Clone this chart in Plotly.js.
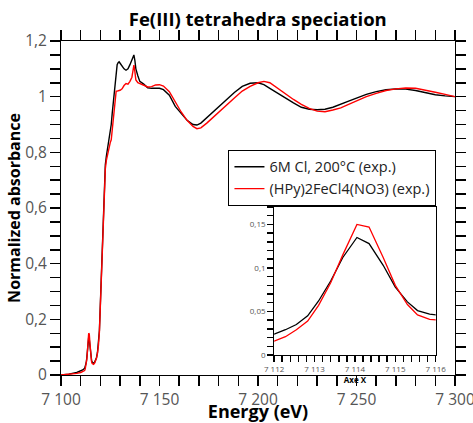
<!DOCTYPE html>
<html><head><meta charset="utf-8">
<script src="https://cdn.plot.ly/plotly-3.0.1.min.js"></script>
<style>html,body{margin:0;padding:0;background:#fff}#chart{width:473px;height:423px}</style>
</head><body><div id="chart"></div>
<script>
const energy = [7100,7104,7108,7110,7111,7112,7112.28,7112.55,7112.83,7113.1,7113.4,7113.7,7114.05,7114.35,7114.7,7115.0,7115.3,7115.55,7115.85,7116.15,7116.5,7117,7117.5,7118,7118.5,7119,7119.5,7120,7120.5,7121,7121.5,7122,7122.5,7123,7123.5,7124,7124.5,7125,7125.5,7126,7126.5,7127,7127.5,7128,7128.5,7129,7129.5,7130,7131,7132,7133,7134,7135,7136,7136.5,7137,7137.5,7138,7139,7140,7142,7144,7146,7148,7150,7152,7155,7158,7161,7164,7167,7169,7171,7174,7177,7180,7184,7188,7192,7196,7200,7203,7206,7210,7214,7218,7222,7226,7230,7234,7238,7242,7246,7250,7255,7260,7265,7270,7275,7280,7285,7290,7295,7300];
const blackCl200 = [0.0,0.003,0.009,0.014,0.018,0.024,0.029,0.035,0.045,0.062,0.085,0.112,0.135,0.128,0.103,0.078,0.061,0.051,0.047,0.045,0.042,0.045,0.052,0.062,0.08,0.11,0.16,0.26,0.37,0.48,0.6,0.70,0.755,0.785,0.81,0.83,0.85,0.87,0.90,0.94,0.98,1.02,1.05,1.09,1.115,1.122,1.125,1.12,1.11,1.10,1.095,1.10,1.115,1.135,1.148,1.15,1.13,1.10,1.075,1.055,1.045,1.032,1.03,1.03,1.03,1.025,1.005,0.965,0.94,0.915,0.90,0.898,0.905,0.925,0.945,0.962,0.99,1.015,1.037,1.048,1.05,1.043,1.03,1.012,0.995,0.978,0.962,0.955,0.953,0.955,0.962,0.972,0.984,0.995,1.008,1.018,1.025,1.028,1.027,1.022,1.014,1.007,1.003,1.0];
const redHPy = [0.0,0.002,0.006,0.009,0.012,0.016,0.021,0.029,0.039,0.057,0.083,0.115,0.150,0.147,0.112,0.080,0.058,0.046,0.041,0.039,0.038,0.042,0.05,0.06,0.078,0.105,0.155,0.25,0.36,0.47,0.59,0.69,0.74,0.77,0.79,0.81,0.825,0.835,0.845,0.88,0.93,0.97,1.005,1.02,1.02,1.02,1.022,1.023,1.028,1.04,1.047,1.045,1.055,1.07,1.095,1.113,1.09,1.06,1.05,1.047,1.043,1.035,1.036,1.042,1.043,1.038,1.018,0.98,0.945,0.915,0.893,0.885,0.888,0.905,0.925,0.944,0.972,0.995,1.02,1.037,1.05,1.055,1.05,1.03,1.008,0.99,0.972,0.958,0.948,0.946,0.952,0.96,0.972,0.985,1.0,1.012,1.022,1.028,1.031,1.03,1.024,1.016,1.008,1.0];
const seriesNames = ['6M Cl, 200°C (exp.)','(HPy)2FeCl4(NO3) (exp.)'];
// tick positions (majors carry a label, minors an empty label)
const mainXTickVals = [7100,7110,7120,7130,7140,7150,7160,7170,7180,7190,7200,7210,7220,7230,7240,7250,7260,7270,7280,7290,7300];
const mainXTickText = ['7 100','','','','','7 150','','','','','7 200','','','','','7 250','','','','','7 300'];
const mainYTickVals = [0,0.05,0.1,0.15,0.2,0.25,0.3,0.35,0.4,0.45,0.5,0.55,0.6,0.65,0.7,0.75,0.8,0.85,0.9,0.95,1,1.05,1.1,1.15,1.2];
const mainYTickText = ['0','','','','0,2','','','','0,4','','','','0,6','','','','0,8','','','','1','','','','1,2'];
const insetXTickVals = [7112,7112.2,7112.4,7112.6,7112.8,7113,7113.2,7113.4,7113.6,7113.8,7114,7114.2,7114.4,7114.6,7114.8,7115,7115.2,7115.4,7115.6,7115.8,7116];
const insetXTickText = ['7 112','','','','','7 113','','','','','7 114','','','','','7 115','','','','','7 116'];
const insetYTickVals = [0,0.01,0.02,0.03,0.04,0.05,0.06,0.07,0.08,0.09,0.1,0.11,0.12,0.13,0.14,0.15,0.16,0.17];
const insetYTickText = ['0','','','','','0,05','','','','','0,1','','','','','0,15','',''];

const FONT = 'Open Sans, DejaVu Sans, sans-serif';
const traces = [
  {x: energy, y: blackCl200, name: seriesNames[0], type:'scatter', mode:'lines', line:{color:'#000000', width:1.4}, xaxis:'x', yaxis:'y'},
  {x: energy, y: redHPy, name: seriesNames[1], type:'scatter', mode:'lines', line:{color:'#ff0000', width:1.4}, xaxis:'x', yaxis:'y'},
  {x: energy, y: blackCl200, showlegend:false, type:'scatter', mode:'lines', line:{color:'#000000', width:1.3}, xaxis:'x2', yaxis:'y2'},
  {x: energy, y: redHPy, showlegend:false, type:'scatter', mode:'lines', line:{color:'#ff0000', width:1.3}, xaxis:'x2', yaxis:'y2'}
];
const layout = {
  width:473, height:423,
  margin:{l:61, r:18, t:41, b:48},
  paper_bgcolor:'#fff', plot_bgcolor:'#fff',
  separators:', ',
  font:{family:FONT, color:'#444'},
  title:{text:'<b>Fe(III) tetrahedra speciation</b>', font:{family:FONT, size:18.5, color:'#000'}, x:0.545, xanchor:'center', y:0.955, yanchor:'middle'},
  showlegend:true,
  legend:{x:0.425, y:0.674, xanchor:'left', yanchor:'top', bgcolor:'#fff', bordercolor:'#000', borderwidth:1, font:{family:FONT, size:14.5, color:'#222'}, tracegroupgap:0, itemwidth:30},
  xaxis:{range:[7100,7300], tickmode:'array', tickvals:mainXTickVals, ticktext:mainXTickText, showgrid:false, zeroline:false, showline:true, linecolor:'#000000', linewidth:1, mirror:'ticks', ticks:'outside', ticklen:10, tickwidth:1.5, tickcolor:'#000000', ticklabeloverflow:'allow', tickfont:{family:FONT, size:15.5, color:'#555'},
    title:{text:'<b>Energy (eV)</b>', font:{family:FONT, size:18, color:'#000'}, standoff:2}},
  yaxis:{range:[0,1.2], tickmode:'array', tickvals:mainYTickVals, ticktext:mainYTickText, showgrid:false, zeroline:false, showline:true, linecolor:'#000000', linewidth:1, mirror:'ticks', ticks:'outside', ticklen:10, tickwidth:1.5, tickcolor:'#000000', tickfont:{family:FONT, size:15.5, color:'#555'},
    title:{text:'<b>Normalized absorbance</b>', font:{family:FONT, size:16, color:'#000'}, standoff:0}},
  xaxis2:{domain:[0.541,0.951], anchor:'y2', range:[7112,7116], tickmode:'array', tickvals:insetXTickVals, ticktext:insetXTickText, showgrid:false, zeroline:false, showline:true, linecolor:'#000', linewidth:1, mirror:true, ticks:'outside', ticklen:6, tickwidth:1.5, tickcolor:'#000', tickfont:{family:FONT, size:8, color:'#555'},
    title:{text:'<b>Axe X</b>', font:{family:FONT, size:8, color:'#000'}, standoff:2}},
  yaxis2:{domain:[0.060,0.503], anchor:'x2', range:[0,0.17], tickmode:'array', tickvals:insetYTickVals, ticktext:insetYTickText, showgrid:false, zeroline:false, showline:true, linecolor:'#000', linewidth:1, mirror:true, ticks:'outside', ticklen:6, tickwidth:1.5, tickcolor:'#000', tickfont:{family:FONT, size:8, color:'#555'}}
};
Plotly.newPlot('chart', traces, layout, {displayModeBar:false, staticPlot:true});
</script></body></html>
